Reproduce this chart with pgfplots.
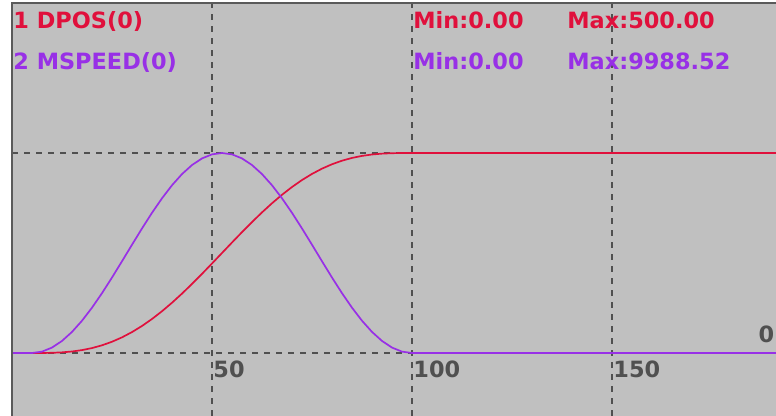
\documentclass[border=0pt]{standalone}
\usepackage{pgfplots}
\usepackage{pgfplotstable}
\pgfplotsset{compat=1.18}
\usepackage{fontspec}
\setmainfont{DejaVu Sans}
\definecolor{bg}{HTML}{C0C0C0}
\definecolor{cred}{HTML}{E0103C}
\definecolor{cpur}{HTML}{9830E6}
\definecolor{gridc}{HTML}{505050}
\definecolor{bord}{HTML}{5A5A5A}
\pgfplotstableread{
x p v
0 0 0
5 0 0
7.5 0.06 68.1
10 0.48 270.6
12.5 1.60 601.9
15 3.75 1053.1
17.5 7.24 1611.7
20 12.33 2262.7
22.5 19.23 2988.1
25 28.12 3768.3
27.5 39.12 4581.8
30 52.27 5406.7
32.5 67.59 6220.2
35 85.02 7000.5
37.5 104.43 7725.8
40 125.66 8376.8
42.5 148.49 8935.4
45 172.65 9386.6
47.5 197.85 9717.9
50 223.74 9920.4
52.5 250.00 9988.5
55 276.26 9920.4
57.5 302.15 9717.9
60 327.35 9386.6
62.5 351.51 8935.4
65 374.34 8376.8
67.5 395.57 7725.8
70 414.98 7000.5
72.5 432.41 6220.2
75 447.73 5406.7
77.5 460.88 4581.8
80 471.88 3768.3
82.5 480.77 2988.1
85 487.67 2262.7
87.5 492.76 1611.7
90 496.25 1053.1
92.5 498.40 601.9
95 499.52 270.6
97.5 499.94 68.1
100 500 0
191 500 0
}\datatable
\begin{document}
\begin{tikzpicture}
\useasboundingbox (-12bp,0) rectangle (764bp,416bp);
\fill[white] (-12bp,0) rectangle (764bp,416bp);
\begin{axis}[
  at={(0,0)}, anchor=south west,
  scale only axis, width=764bp, height=413bp,
  xmin=0, xmax=191, ymin=-0.315, ymax=1.75,
  axis background/.style={fill=bg},
  axis line style={draw=none},
  xtick={50,100,150}, ytick=\empty, xticklabels={},
  major tick length=0pt,
  xmajorgrids,
  grid style={gridc, line width=1.8bp, dash pattern=on 6bp off 6bp},
  clip=false,
]
\draw[gridc, line width=1.8bp, dash pattern=on 6bp off 6bp] (axis cs:0,0) -- (axis cs:100,0);
\draw[gridc, line width=1.8bp, dash pattern=on 6bp off 6bp] (axis cs:0,1) -- (axis cs:100,1);
\addplot[cred, line width=1.7bp, no marks] table[x=x, y expr=\thisrow{p}/500] {\datatable};
\addplot[cpur, line width=1.7bp, no marks] table[x=x, y expr=\thisrow{v}/9988.52] {\datatable};
\draw[bord, line width=2.2bp] (rel axis cs:0,0) -- (rel axis cs:0,1) -- (rel axis cs:1,1);
\begin{scope}[every node/.style={inner sep=0pt, anchor=base west, font=\fontsize{22.5}{27}\selectfont\bfseries}]
\node[text=cred] at (axis cs:0.3,1.62) {1 DPOS(0)};
\node[text=cpur] at (axis cs:0.3,1.415) {2 MSPEED(0)};
\node[text=cred] at (axis cs:100.3,1.62) {Min:0.00};
\node[text=cpur] at (axis cs:100.3,1.415) {Min:0.00};
\node[text=cred] at (axis cs:138.8,1.62) {Max:500.00};
\node[text=cpur] at (axis cs:138.8,1.415) {Max:9988.52};
\node[text=gridc] at (axis cs:50.3,-0.125) {50};
\node[text=gridc] at (axis cs:100.3,-0.125) {100};
\node[text=gridc] at (axis cs:150.3,-0.125) {150};
\node[text=gridc] at (axis cs:186.6,0.05) {0};
\end{scope}
\end{axis}
\end{tikzpicture}
\end{document}
